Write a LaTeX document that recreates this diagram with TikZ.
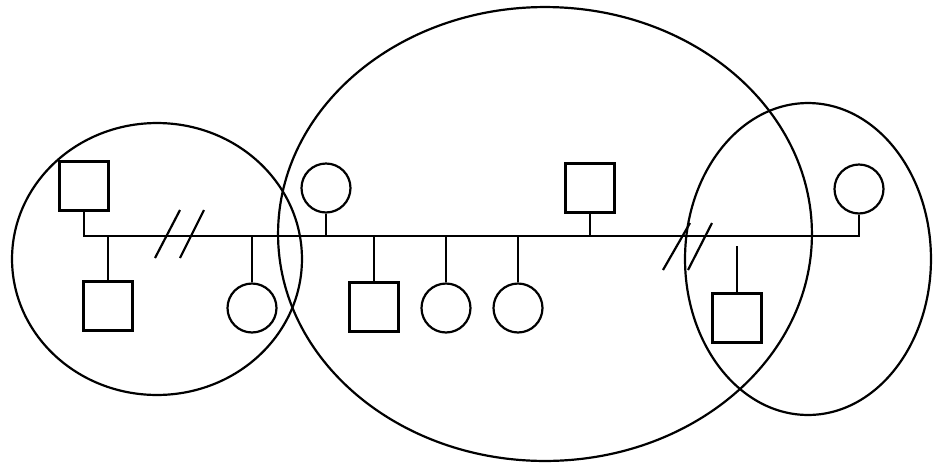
\documentclass[tikz,border=0pt]{standalone}
\begin{document}
\begin{tikzpicture}[x=0.02cm,y=-0.02cm, line width=1.25pt,
  male/.style={draw, rectangle, minimum size=0.98cm, inner sep=0pt},
  female/.style={draw, circle, minimum size=0.98cm, inner sep=0pt}]
\useasboundingbox (0,0) rectangle (941,464);
% household boundaries
\draw (157,259) ellipse [x radius=2.9cm, y radius=2.72cm];
\draw (545,234) ellipse [x radius=5.34cm, y radius=4.54cm];
\draw (808,259) ellipse [x radius=2.46cm, y radius=3.12cm];
% people
\node[male]   (m1) at (84,186) {};
\node[male]   (s1) at (108,306) {};
\node[female] (d1) at (252,308) {};
\node[female] (f2) at (326,188) {};
\node[male]   (s2) at (374,307) {};
\node[female] (d2) at (446,308) {};
\node[female] (d3) at (518,308) {};
\node[male]   (m2) at (590,188) {};
\node[female] (f3) at (859,189) {};
\node[male]   (s3) at (737,318) {};
% marriage line
\coordinate (lineL) at (84,236);
\coordinate (lineR) at (859,236);
\draw (m1.south) |- (lineR) -- (f3.south);
\foreach \n in {s1,d1,s2,d2,d3} \draw (\n.north) -- (\n.north |- lineL);
\foreach \n in {f2,m2} \draw (\n.south) -- (\n.south |- lineL);
\coordinate (s3top) at (737,246);
\draw (s3top) -- (s3.north);
% divorce slashes
\draw (155,258) -- (180,210);
\draw (180,258) -- (204,210);
\draw (663,270) -- (690,223);
\draw (688,270) -- (712,223);
\end{tikzpicture}
\end{document}
